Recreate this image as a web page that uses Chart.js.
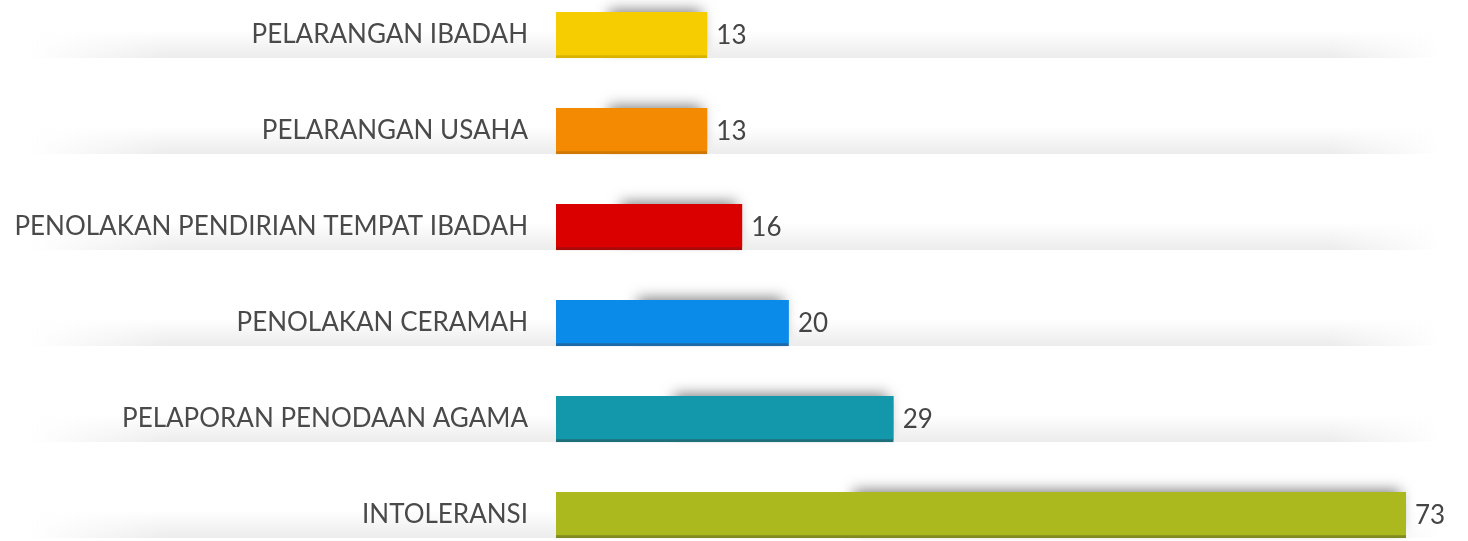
<!DOCTYPE html>
<html>
<head>
<meta charset="utf-8">
<script src="https://cdn.jsdelivr.net/npm/chart.js@4.4.0/dist/chart.umd.min.js"></script>
<style>
	html, body { margin: 0; padding: 0; background: #fff; overflow: hidden; width: 1468px; height: 541px; }
	#wrap { width: 1468px; height: 576px; position: relative; margin-top: -13px; }
</style>
</head>
<body>
<div id="wrap"><canvas id="grafico"></canvas></div>
<script>
var kategori = ["PELARANGAN IBADAH", "PELARANGAN USAHA", "PENOLAKAN PENDIRIAN TEMPAT IBADAH", "PENOLAKAN CERAMAH", "PELAPORAN PENODAAN AGAMA", "INTOLERANSI"];
var jumlah = [13, 13, 16, 20, 29, 73];
var warna = ["#f5cd00", "#f38a02", "#db0000", "#0a8ae9", "#1398ab", "#abb91e"];
var warnaBawah = ["#d8b400", "#cf7806", "#a80a0a", "#1f6aa6", "#1f6f7b", "#7f8a22"];

var fontLabel = "'Lato', sans-serif";

// pita abu-abu tipis di bawah tiap baris
var pitaBaris = {
	id: 'pitaBaris',
	beforeDraw: (chart) => {
		const ctx = chart.ctx;
		const meta = chart.getDatasetMeta(0);
		meta.data.forEach((bar) => {
			const bawah = bar.y + bar.height / 2;
			ctx.save();
			let g = ctx.createLinearGradient(0, bawah - 28, 0, bawah);
			g.addColorStop(0, 'rgba(0,0,0,0)');
			g.addColorStop(1, 'rgba(0,0,0,0.075)');
			ctx.fillStyle = g;
			ctx.fillRect(30, bawah - 28, 1410, 28);
			let kiri = ctx.createLinearGradient(30, 0, 170, 0);
			kiri.addColorStop(0, 'rgba(255,255,255,1)');
			kiri.addColorStop(1, 'rgba(255,255,255,0)');
			ctx.fillStyle = kiri;
			ctx.fillRect(30, bawah - 28, 140, 28);
			let kanan = ctx.createLinearGradient(1440, 0, 1330, 0);
			kanan.addColorStop(0, 'rgba(255,255,255,1)');
			kanan.addColorStop(1, 'rgba(255,255,255,0)');
			ctx.fillStyle = kanan;
			ctx.fillRect(1330, bawah - 28, 110, 28);
			ctx.restore();
		});
	}
};

// bayangan batang + angka di kanan
var bayangan = {
	id: 'bayangan',
	beforeDatasetsDraw: (chart) => {
		const ctx = chart.ctx;
		const meta = chart.getDatasetMeta(0);
		meta.data.forEach((bar, i) => {
			const atas = bar.y - bar.height / 2;
			const lebar = bar.x - bar.base;
			const mulai = bar.base + lebar * 0.35;
			ctx.save();
			ctx.shadowColor = 'rgba(0,0,0,0.5)';
			ctx.shadowBlur = 14;
			ctx.shadowOffsetX = 0;
			ctx.shadowOffsetY = -6;
			ctx.fillStyle = warna[i];
			ctx.fillRect(mulai, atas + 4, bar.x - 6 - mulai, bar.height - 8);
			ctx.restore();
		});
	},
	afterDatasetsDraw: (chart) => {
		const ctx = chart.ctx;
		const meta = chart.getDatasetMeta(0);
		ctx.save();
		ctx.font = "26px " + fontLabel;
		ctx.fillStyle = '#454545';
		ctx.textBaseline = 'middle';
		ctx.textAlign = 'left';
		meta.data.forEach((bar, i) => {
			ctx.fillText(jumlah[i], bar.x + 9, bar.y + 1);
		});
		ctx.restore();
	}
};

var grafik = new Chart(document.getElementById("grafico"), {
	type: 'bar',
	data: {
		labels: kategori,
		datasets: [{
			data: jumlah,
			backgroundColor: warna,
			borderColor: warnaBawah,
			borderWidth: { top: 0, right: 0, bottom: 3, left: 0 },
			borderSkipped: false,
			barThickness: 46
		}]
	},
	options: {
		indexAxis: 'y',
		responsive: true,
		maintainAspectRatio: false,
		animation: false,
		layout: { padding: { top: 0, bottom: 0, left: 0, right: 62 } },
		plugins: {
			legend: { display: false },
			tooltip: { enabled: false }
		},
		scales: {
			x: {
				display: false,
				min: 0,
				max: 73
			},
			y: {
				grid: { display: false, drawTicks: false },
				border: { display: false },
				ticks: {
					color: '#4a4a4a',
					padding: 28,
					font: { family: fontLabel, size: 26 }
				},
				afterFit: (scale) => {
					scale.width = 556;
					scale.paddingTop = 0;
					scale.paddingBottom = 0;
				}
			}
		}
	},
	plugins: [pitaBaris, bayangan]
});
</script>
</body>
</html>
